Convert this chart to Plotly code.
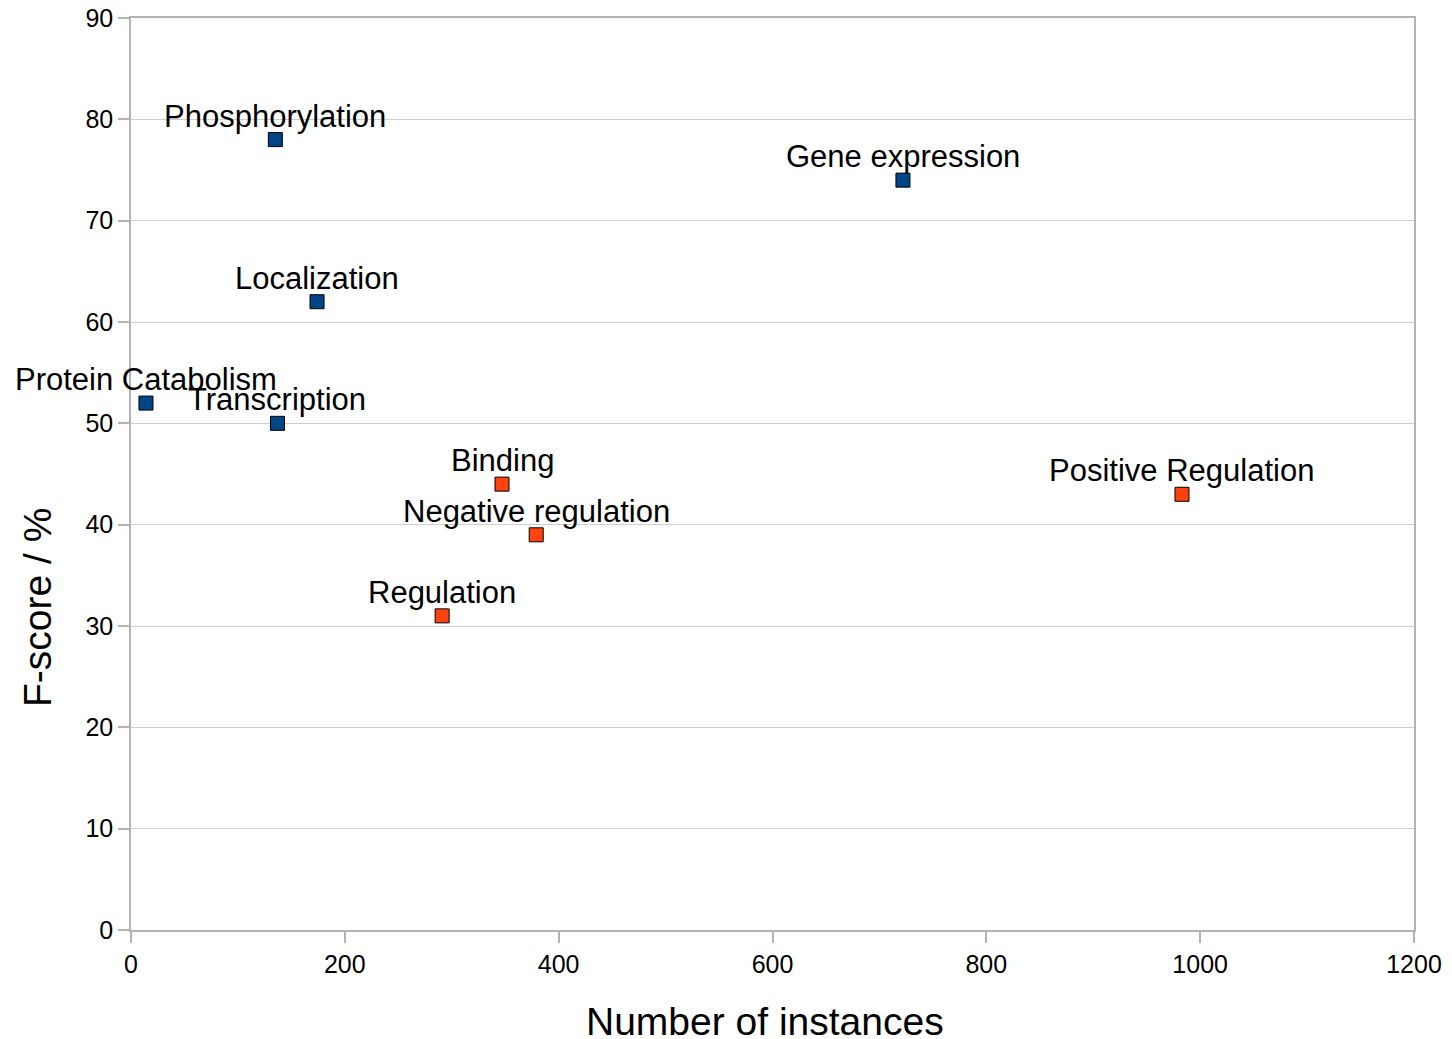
import plotly.graph_objects as go

# Simple events (blue)
simple_names = ["Phosphorylation", "Gene expression", "Localization", "Protein Catabolism", "Transcription"]
simple_x = [135, 722, 174, 14, 137]
simple_y = [78, 74, 62, 52, 50]

# Regulation events (orange)
reg_names = ["Binding", "Negative regulation", "Regulation", "Positive Regulation"]
reg_x = [347, 379, 291, 983]
reg_y = [44, 39, 31, 43]

x_ticks = [0, 200, 400, 600, 800, 1000, 1200]
y_ticks = [0, 10, 20, 30, 40, 50, 60, 70, 80, 90]

FONT = "Liberation Sans, Arial, sans-serif"
GRID = "#b3b3b3"

fig = go.Figure()
for names, xs, ys, col in [(simple_names, simple_x, simple_y, "#004586"),
                           (reg_names, reg_x, reg_y, "#ff420e")]:
    fig.add_trace(go.Scatter(
        x=xs, y=ys, mode="markers",
        marker=dict(symbol="square", size=14, color=col,
                    line=dict(color="black", width=1)),
        cliponaxis=False, showlegend=False, hoverinfo="skip",
    ))
    for n, xv, yv in zip(names, xs, ys):
        fig.add_annotation(x=xv, y=yv, text=n, showarrow=False,
                           xanchor="center", yanchor="bottom", yshift=4,
                           font=dict(family=FONT, size=31, color="black"))

axis_common = dict(
    showline=True, linecolor=GRID, linewidth=1.5, mirror=True,
    ticks="outside", ticklen=11, tickcolor=GRID, tickwidth=1.5,
    tickfont=dict(family=FONT, size=25, color="black"),
    zeroline=False, automargin=False,
)
fig.update_xaxes(range=[0, 1200], tickvals=x_ticks, showgrid=False, **axis_common)
fig.update_yaxes(range=[0, 90], tickvals=y_ticks, showgrid=True, gridcolor="#cfcfcf", gridwidth=1, **axis_common)

fig.add_annotation(text="Number of instances", xref="paper", yref="paper",
                   x=(765 - 131) / 1283, y=-(1021 - 930) / 912, xanchor="center", yanchor="middle",
                   showarrow=False, font=dict(family=FONT, size=39, color="black"))
fig.add_annotation(text="F-score / %", xref="paper", yref="paper", textangle=-90,
                   x=-(131 - 37) / 1283, y=(930 - 608) / 912, xanchor="center", yanchor="middle",
                   showarrow=False, font=dict(family=FONT, size=39, color="black"))

fig.update_layout(
    width=1452, height=1039,
    margin=dict(l=131, r=38, t=18, b=109),
    plot_bgcolor="white", paper_bgcolor="white",
    font=dict(family=FONT),
)
fig.write_html("out.html", config={"displayModeBar": False},
               post_script="document.body.style.margin='0';document.body.style.overflow='hidden';")
